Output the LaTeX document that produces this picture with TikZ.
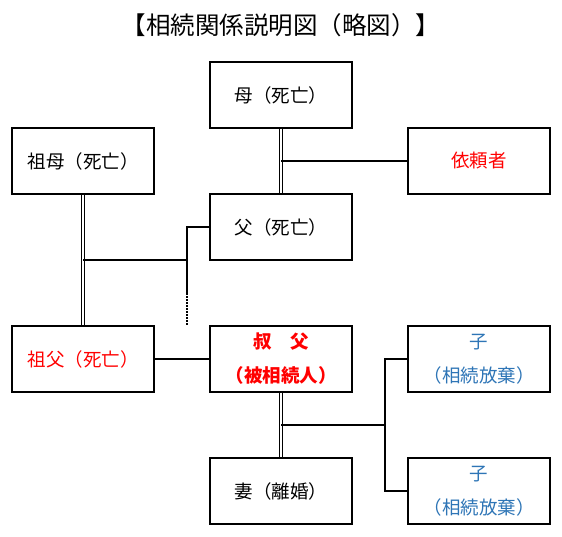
\documentclass[tikz,border=0pt]{standalone}
\usepackage{fontspec}
\newfontfamily\jp{Noto Sans CJK JP}

\definecolor{kinred}{RGB}{255,0,0}
\definecolor{kinblue}{RGB}{46,117,182}

\begin{document}
\begin{tikzpicture}[x=1pt, y=-1pt,
    box/.style={draw, line width=1.2pt, minimum width=142pt, minimum height=66pt,
      inner sep=0pt, align=center, font=\jp\fontsize{18.5}{34}\selectfont},
    link/.style={line width=1.1pt},
    dbl/.style={double, double distance=2.2pt, line width=0.9pt}]
    \useasboundingbox (0,0) rectangle (562,536);
    \node [font=\jp\fontsize{24.5}{28}\selectfont] (title) at (281,25) {【相続関係説明図（略図）】};
    \node [box] (mo) at (281,95) {母（死亡）};
    \node [box] (sobo) at (83,161) {祖母（死亡）};
    \node [box, text=kinred] (irai) at (479,161) {依頼者};
    \node [box] (chichi) at (281,227) {父（死亡）};
    \node [box, text=kinred] (sofu) at (83,359) {祖父（死亡）};
    \node [box, text=kinred] (oji) at (281,359) {\bfseries 叔　父\\\bfseries （被相続人）};
    \node [box, text=kinblue] (ko1) at (479,359) {子\\（相続放棄）};
    \node [box] (tsuma) at (281,491) {妻（離婚）};
    \node [box, text=kinblue] (ko2) at (479,491) {子\\（相続放棄）};
    \coordinate (j1) at (187,260);
    \coordinate (j2) at (187,293);
    \coordinate (j4) at (385,425);
    \draw [dbl] (mo.south) -- (chichi.north);
    \draw [link] (irai.west -| mo.south) -- (irai.west);
    \draw [dbl] (sobo.south) -- (sofu.north);
    \draw [link] (sobo.south |- j1) -- (j1);
    \draw [link] (chichi.west) -| (j2);
    \draw [link, dash pattern=on 1.5pt off 1.5pt] (j2) -- (j1 |- oji.north);
    \draw [link] (sofu.east) -- (oji.west);
    \draw [dbl] (oji.south) -- (tsuma.north);
    \draw [link] (oji.south |- j4) -- (j4);
    \draw [link] (ko1.west) -| (j4);
    \draw [link] (ko2.west) -| (j4);
  \end{tikzpicture}
\end{document}
